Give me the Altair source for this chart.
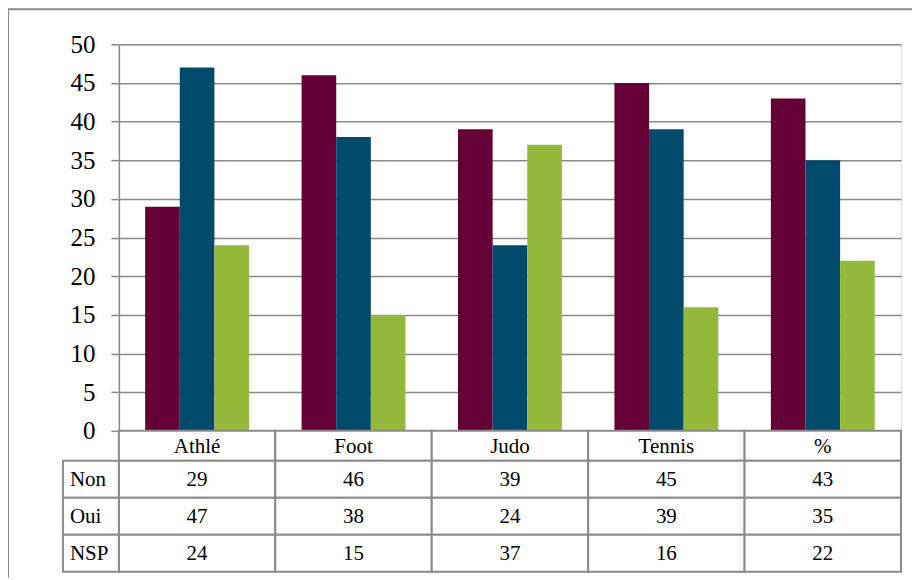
import altair as alt
import pandas as pd

categories = ["Athlé", "Foot", "Judo", "Tennis", "%"]
series = ["Non", "Oui", "NSP"]
non_vals = [29, 46, 39, 45, 43]
oui_vals = [47, 38, 24, 39, 35]
nsp_vals = [24, 15, 37, 16, 22]
colors = ["#640036", "#004A6C", "#93B83A"]
y_ticks = [0, 5, 10, 15, 20, 25, 30, 35, 40, 45, 50]

values_by_series = {"Non": non_vals, "Oui": oui_vals, "NSP": nsp_vals}

bars_df = pd.DataFrame(
    [
        {"cat": c, "serie": s, "val": values_by_series[s][i]}
        for s in series
        for i, c in enumerate(categories)
    ]
)

cat_df = pd.DataFrame({"cat": categories, "txt": categories})
table_rows = []
for i, c in enumerate(categories):
    for s in series:
        table_rows.append({"cat": c, "row": s, "txt": str(values_by_series[s][i])})
table_df = pd.DataFrame(table_rows)
label_df = pd.DataFrame({"row": series, "txt": series})
one = pd.DataFrame({"k": [0]})

FONT = "'Liberation Serif', 'Times New Roman', Times, serif"
GRAY = "#8a8a8a"
W = 783
H = 387
TFS = 21

x_scale = alt.Scale(domain=categories, paddingInner=0.336, paddingOuter=0.168)

bars = alt.Chart(bars_df).mark_bar().encode(
    x=alt.X("cat:N", scale=x_scale, axis=None, sort=categories),
    xOffset=alt.XOffset("serie:N", sort=series, scale=alt.Scale(domain=series, paddingInner=0, paddingOuter=0)),
    y=alt.Y(
        "val:Q",
        scale=alt.Scale(domain=[0, 50], nice=False),
        axis=alt.Axis(
            values=y_ticks,
            title=None,
            grid=True,
            gridColor=GRAY,
            gridWidth=1.5,
            domainColor=GRAY,
            domainWidth=1.5,
            tickColor=GRAY,
            tickWidth=1.5,
            tickSize=8,
            labelFont=FONT,
            labelFontSize=25,
            labelColor="#000000",
            labelPadding=16,
        ),
    ),
    color=alt.Color("serie:N", scale=alt.Scale(domain=series, range=colors), legend=None),
)

frame_top = alt.Chart(one).mark_rule(color=GRAY, strokeWidth=2).encode(
    x=alt.value(-111), x2=alt.value(794), y=alt.value(-35)
)
frame_left = alt.Chart(one).mark_rule(color=GRAY, strokeWidth=2).encode(
    x=alt.value(-111), y=alt.value(-35), y2=alt.value(534)
)

top = alt.layer(frame_top, frame_left, bars).properties(width=W, height=H)

x_tab = alt.X("cat:N", scale=alt.Scale(domain=categories, paddingInner=0, paddingOuter=0), axis=None, sort=categories)

cat_cells = alt.Chart(cat_df).mark_rect(fill="white", stroke=GRAY, strokeWidth=2).encode(x=x_tab)
cat_txt = alt.Chart(cat_df).mark_text(font=FONT, fontSize=TFS, color="black", dy=1).encode(x=x_tab, text="txt:N")
cat_row = alt.layer(cat_cells, cat_txt).properties(width=W, height=30)

y_row = alt.Y("row:N", scale=alt.Scale(domain=series, paddingInner=0, paddingOuter=0), axis=None, sort=series)

cells = alt.Chart(table_df).mark_rect(fill="white", stroke=GRAY, strokeWidth=2).encode(
    x=x_tab, y=y_row
)
cell_txt = alt.Chart(table_df).mark_text(font=FONT, fontSize=TFS, color="black", dy=1).encode(
    x=x_tab, y=y_row, text="txt:N"
)
label_cells = alt.Chart(label_df).mark_rect(fill="white", stroke=GRAY, strokeWidth=2).encode(
    x=alt.value(-56), x2=alt.value(0), y=y_row
)
label_txt = alt.Chart(label_df).mark_text(font=FONT, fontSize=TFS, color="black", align="left", dy=1).encode(
    x=alt.value(-49), y=y_row, text="txt:N"
)

bottom = alt.layer(cells, cell_txt, label_cells, label_txt).properties(width=W, height=111)

chart = alt.vconcat(top, cat_row, bottom, spacing=0, bounds="flush").properties(
    padding={"left": -2, "top": -1, "right": 0, "bottom": 0}
).configure_view(strokeWidth=0).configure(background="white", font=FONT)

chart.save("out.html", embed_options={"renderer": "svg", "actions": False})
